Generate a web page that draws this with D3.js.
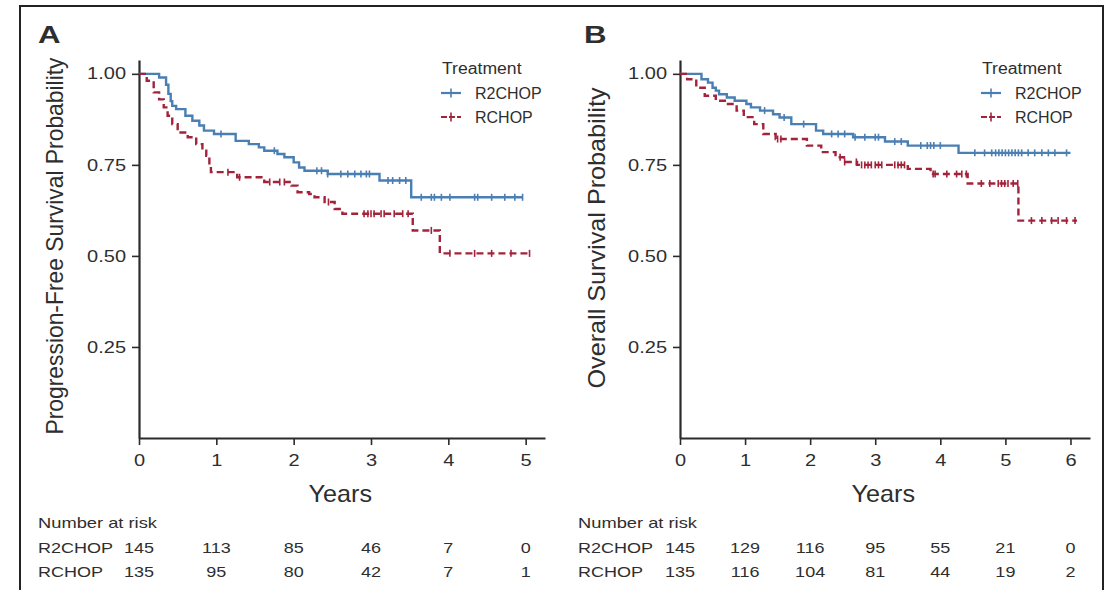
<!DOCTYPE html>
<html>
<head>
<meta charset="utf-8">
<script src="https://cdn.jsdelivr.net/npm/d3@7/dist/d3.min.js"></script>
<style>
  body { margin: 0; background: #fff; }
  text { font-family: "Liberation Sans", Arial, sans-serif; fill: #2e2e2e; }
</style>
</head>
<body>
<div id="chart"></div>
<script>
// Kaplan-Meier steps: [years, survival probability].
let pfsR2Steps = [[0,1],[0.26,0.99],[0.35,0.97],[0.38,0.945],[0.41,0.925],[0.43,0.912],[0.48,0.903],[0.60,0.885],[0.69,0.871],[0.78,0.858],[0.84,0.844],[0.97,0.835],[1.25,0.816],[1.42,0.807],[1.55,0.798],[1.62,0.789],[1.79,0.78],[1.88,0.771],[2.0,0.757],[2.07,0.743],[2.14,0.734],[2.44,0.725],[3.11,0.707],[3.52,0.661]];
let pfsRSteps = [[0,1],[0.1,0.981],[0.19,0.949],[0.26,0.93],[0.32,0.908],[0.37,0.885],[0.43,0.862],[0.50,0.839],[0.63,0.826],[0.74,0.807],[0.82,0.789],[0.87,0.775],[0.91,0.748],[0.93,0.73],[1.27,0.716],[1.62,0.703],[1.97,0.693],[2.05,0.675],[2.2,0.67],[2.27,0.661],[2.40,0.648],[2.53,0.629],[2.63,0.616],[3.54,0.570],[3.89,0.507]];
let osR2Steps = [[0,1],[0.33,0.985],[0.43,0.976],[0.50,0.962],[0.55,0.954],[0.60,0.944],[0.72,0.935],[0.84,0.926],[1.02,0.917],[1.09,0.908],[1.23,0.899],[1.43,0.889],[1.53,0.88],[1.71,0.862],[2.09,0.844],[2.20,0.835],[2.66,0.826],[3.15,0.814],[3.5,0.803],[4.28,0.783]];
let osRSteps = [[0,1],[0.11,0.985],[0.25,0.962],[0.38,0.94],[0.55,0.926],[0.71,0.917],[0.87,0.899],[0.98,0.881],[1.14,0.862],[1.28,0.835],[1.47,0.821],[1.95,0.803],[2.17,0.785],[2.39,0.771],[2.52,0.758],[2.72,0.75],[3.5,0.739],[3.85,0.725],[4.42,0.699],[5.2,0.597]];

// Last follow-up time of each curve.
let pfsR2End = 4.96, pfsREnd = 5.05, osR2End = 6.0, osREnd = 6.1;

// Censoring marks (years).
let pfsR2Cens = [1.06,1.75,2.3,2.36,2.44,2.61,2.70,2.79,2.87,2.94,2.98,3.22,3.28,3.37,3.45,3.65,3.78,3.82,3.91,4.02,4.34,4.38,4.56,4.73,4.86,4.96];
let pfsRCens = [1.15,1.3,1.69,1.82,1.88,2.45,2.91,2.96,3.0,3.04,3.13,3.17,3.30,3.41,3.48,3.78,4.02,4.34,4.56,4.81,5.05];
let osR2Cens = [1.3,1.6,1.9,2.33,2.43,2.53,2.69,2.84,3.0,3.05,3.3,3.4,3.7,3.8,3.85,3.9,4.0,4.53,4.68,4.79,4.85,4.9,4.95,5.0,5.05,5.1,5.15,5.2,5.25,5.35,5.45,5.56,5.66,5.76,5.94];
let osRCens = [1.5,1.55,2.46,2.53,2.71,2.79,2.84,2.89,2.94,3.0,3.05,3.1,3.3,3.35,3.4,3.45,3.89,3.92,4.1,4.25,4.33,4.4,4.63,4.76,4.89,4.94,4.99,5.04,5.12,5.19,5.40,5.56,5.71,5.81,5.94,6.07];

// Number at risk tables.
let pfsYears = [0,1,2,3,4,5];
let osYears = [0,1,2,3,4,5,6];
let pfsRiskR2 = [145,113,85,46,7,0];
let pfsRiskR = [135,95,80,42,7,1];
let osRiskR2 = [145,129,116,95,55,21,0];
let osRiskR = [135,116,104,81,44,19,2];

let yTicks = [0.25, 0.5, 0.75, 1.0];
let groups = ["R2CHOP", "RCHOP"];

let blue = "#4a7fb3", red = "#a2233b";

let svg = d3.select("#chart").append("svg")
            .attr("width", 1109)
            .attr("height", 590);

// Stretch text horizontally, the figure is a bit wider than its fonts.
function widen(sel, k) {
    sel.each(function() {
        let w = this.getComputedTextLength();
        d3.select(this).attr("textLength", w * k).attr("lengthAdjust", "spacingAndGlyphs");
    });
}

// Value of a step curve at time t.
function survAt(steps, t) {
    let s = steps[0][1];
    steps.forEach(function(d) { if (d[0] <= t) s = d[1]; });
    return s;
}

// Outer frame.
svg.append("path")
   .attr("d", "M20,590 V6 H1103 V590")
   .attr("fill", "none")
   .attr("stroke", "#222")
   .attr("stroke-width", 2);

let panels = [
    {label: "A", labelX: 38, x0: 139, x1: 545, xmax: 5.25, years: pfsYears,
     ylab: "Progression-Free Survival Probability", ylabX: 63, ylabY: 246, ylabLen: 377,
     r2: pfsR2Steps, r: pfsRSteps, r2End: pfsR2End, rEnd: pfsREnd, r2Cens: pfsR2Cens, rCens: pfsRCens,
     riskR2: pfsRiskR2, riskR: pfsRiskR, legX: 441},
    {label: "B", labelX: 584, x0: 680, x1: 1090, xmax: 6.3, years: osYears,
     ylab: "Overall Survival Probability", ylabX: 605, ylabY: 238, ylabLen: 301,
     r2: osR2Steps, r: osRSteps, r2End: osR2End, rEnd: osREnd, r2Cens: osR2Cens, rCens: osRCens,
     riskR2: osRiskR2, riskR: osRiskR, legX: 981}
];

let y = d3.scaleLinear().domain([0, 1.038]).range([438, 60]);

panels.forEach(function(p) {
    let g = svg.append("g");
    let x = d3.scaleLinear().domain([0, p.xmax]).range([p.x0, p.x1]);

    // Panel letter.
    g.append("text")
     .attr("x", p.labelX).attr("y", 43)
     .style("font-size", "24px").style("font-weight", "bold").attr("fill", "#111")
     .text(p.label)
     .call(widen, 1.3);

    // Axes.
    let yAxis = g.append("g")
                 .attr("transform", "translate(" + p.x0 + ",0)")
                 .call(d3.axisLeft(y).tickValues(yTicks).tickFormat(d3.format(".2f")).tickSize(7).tickSizeOuter(0).tickPadding(6));
    let xAxis = g.append("g")
                 .attr("transform", "translate(0,438)")
                 .call(d3.axisBottom(x).tickValues(p.years).tickFormat(d3.format("d")).tickSize(7).tickSizeOuter(0).tickPadding(10));
    [xAxis, yAxis].forEach(function(a) {
        a.select(".domain").attr("stroke", "#2b2b2b").attr("stroke-width", 2.2);
        a.selectAll(".tick line").attr("stroke", "#2b2b2b").attr("stroke-width", 1.6);
        a.selectAll(".tick text").attr("fill", "#2e2e2e").style("font-size", "16px")
         .style("font-family", "'Liberation Sans', Arial, sans-serif")
         .call(widen, 1.25);
    });

    // Axis titles.
    g.append("text")
     .attr("transform", "translate(" + p.ylabX + "," + p.ylabY + ") rotate(-90)")
     .attr("text-anchor", "middle")
     .style("font-size", "24px")
     .attr("textLength", p.ylabLen).attr("lengthAdjust", "spacingAndGlyphs")
     .text(p.ylab);

    g.append("text")
     .attr("x", (x(0) + x(p.years[p.years.length - 1])) / 2 + 8).attr("y", 502)
     .attr("text-anchor", "middle")
     .style("font-size", "24px")
     .text("Years")
     .call(widen, 1.05);

    // Curves.
    let line = d3.line().curve(d3.curveStepAfter)
                 .x(function(d) { return x(d[0]); })
                 .y(function(d) { return y(d[1]); });

    let curves = [
        {steps: p.r2, end: p.r2End, cens: p.r2Cens, color: blue, dash: null},
        {steps: p.r, end: p.rEnd, cens: p.rCens, color: red, dash: "7,4"}
    ];

    curves.forEach(function(c) {
        let pts = c.steps.concat([[c.end, c.steps[c.steps.length - 1][1]]]);
        g.append("path")
         .datum(pts)
         .attr("fill", "none")
         .attr("stroke", c.color)
         .attr("stroke-width", 2.4)
         .attr("stroke-dasharray", c.dash)
         .attr("d", line);

        g.append("g")
         .selectAll("line")
         .data(c.cens)
         .enter()
         .append("line")
         .attr("x1", function(d) { return x(d); })
         .attr("x2", function(d) { return x(d); })
         .attr("y1", function(d) { return y(survAt(c.steps, d)) - 3.5; })
         .attr("y2", function(d) { return y(survAt(c.steps, d)) + 3.5; })
         .attr("stroke", c.color)
         .attr("stroke-width", 1.6);
    });

    // Legend.
    g.append("text")
     .attr("x", p.legX + 1).attr("y", 74)
     .style("font-size", "16px")
     .text("Treatment")
     .call(widen, 1.1);

    groups.forEach(function(name, i) {
        let ly = 93 + i * 24;
        let col = i === 0 ? blue : red;
        g.append("line")
         .attr("x1", p.legX).attr("x2", p.legX + 20)
         .attr("y1", ly).attr("y2", ly)
         .attr("stroke", col).attr("stroke-width", 2.2)
         .attr("stroke-dasharray", i === 0 ? null : "6,2");
        g.append("line")
         .attr("x1", p.legX + 10).attr("x2", p.legX + 10)
         .attr("y1", ly - 4.5).attr("y2", ly + 4.5)
         .attr("stroke", col).attr("stroke-width", 1.6);
        g.append("text")
         .attr("x", p.legX + 34).attr("y", ly).attr("dy", "0.35em")
         .style("font-size", "16px")
         .text(name);
    });

    // Number at risk table.
    let riskX = p.label === "A" ? 38 : 578;
    g.append("text")
     .attr("x", riskX).attr("y", 528)
     .style("font-size", "15px")
     .text("Number at risk")
     .call(widen, 1.22);

    [p.riskR2, p.riskR].forEach(function(row, i) {
        let ry = 553 + i * 24;
        g.append("text")
         .attr("x", riskX).attr("y", ry)
         .style("font-size", "15px")
         .text(groups[i])
         .call(widen, 1.2);
        g.append("g")
         .selectAll("text")
         .data(row)
         .enter()
         .append("text")
         .attr("x", function(d, j) { return x(p.years[j]); })
         .attr("y", ry)
         .attr("text-anchor", "middle")
         .style("font-size", "15px")
         .text(function(d) { return d; })
         .call(widen, 1.2);
    });
});
</script>
</body>
</html>
